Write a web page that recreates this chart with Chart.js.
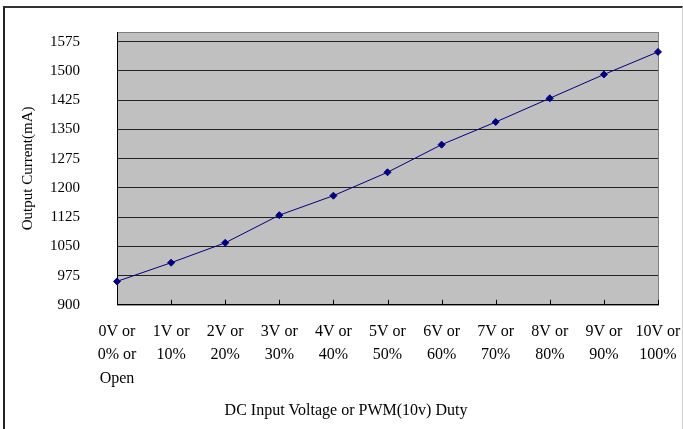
<!DOCTYPE html>
<html>
<head>
<meta charset="utf-8">
<script src="https://cdn.jsdelivr.net/npm/chart.js"></script>
<style>
  html, body { margin: 0; padding: 0; background: #fff; overflow: hidden; }
  #wrap { position: relative; width: 683px; height: 429px; }
  #frame {
    position: absolute; left: 3px; top: 6px; width: 677px; height: 440px;
    border-left: 2px solid #222; border-top: 2px solid #333; border-right: 1px solid #d0d0d0;
    pointer-events: none;
  }
  canvas { position: absolute; left: 0; top: 0; }
</style>
</head>
<body>
<div id="wrap">
  <canvas id="chart" width="683" height="429"></canvas>
  <div id="frame"></div>
</div>
<script>
const categories = [
  ['0V or', '0% or', 'Open'],
  ['1V or', '10%'],
  ['2V or', '20%'],
  ['3V or', '30%'],
  ['4V or', '40%'],
  ['5V or', '50%'],
  ['6V or', '60%'],
  ['7V or', '70%'],
  ['8V or', '80%'],
  ['9V or', '90%'],
  ['10V or', '100%']
];
const outputCurrent = [960, 1008, 1059, 1130, 1180, 1240, 1311, 1369, 1430, 1491, 1549];
const yTickValues = [900, 975, 1050, 1125, 1200, 1275, 1350, 1425, 1500, 1575];
const yMin = 900;
const yMax = 1600;

const serif = "'Liberation Serif', 'Times New Roman', serif";

function noScalePadding(s) {
  s.paddingTop = 0;
  s.paddingBottom = 0;
  s.paddingLeft = 0;
  s.paddingRight = 0;
}

// gray plot background + frame, and the little inside tick marks on the x axis
const plotArea = {
  id: 'plotArea',
  beforeDraw(chart) {
    const { ctx, chartArea: a } = chart;
    ctx.save();
    ctx.fillStyle = '#c0c0c0';
    ctx.fillRect(a.left, a.top, a.right - a.left, a.bottom - a.top);
    ctx.strokeStyle = '#808080';
    ctx.lineWidth = 1;
    ctx.strokeRect(a.left + 0.5, a.top + 0.5, a.right - a.left, a.bottom - a.top);
    ctx.restore();
  },
  afterDatasetsDraw(chart) {
    const { ctx, chartArea: a } = chart;
    const x = chart.scales.x;
    ctx.save();
    ctx.strokeStyle = '#000';
    ctx.lineWidth = 1;
    ctx.beginPath();
    x.ticks.forEach((t, i) => {
      const px = Math.round(x.getPixelForTick(i)) + 0.5;
      ctx.moveTo(px, a.bottom);
      ctx.lineTo(px, a.bottom - 5);
    });
    ctx.stroke();
    ctx.restore();
  }
};

new Chart(document.getElementById('chart').getContext('2d'), {
  type: 'line',
  data: {
    labels: categories,
    datasets: [{
      data: outputCurrent,
      borderColor: '#000080',
      backgroundColor: '#000080',
      borderWidth: 1,
      pointStyle: 'rectRot',
      pointRadius: 3.5,
      pointBorderWidth: 1,
      tension: 0,
      clip: false
    }]
  },
  options: {
    responsive: false,
    animation: false,
    devicePixelRatio: 1,
    // left/right unequal so the bottom title sits where the original has it
    layout: { padding: { left: 34, top: 32, right: 25, bottom: 0 } },
    plugins: {
      legend: { display: false },
      tooltip: { enabled: false },
      title: {
        display: true,
        position: 'bottom',
        text: 'DC Input Voltage or PWM(10v) Duty',
        color: '#000',
        font: { family: serif, size: 16, weight: 'normal' },
        padding: { top: 0, bottom: 9 }
      }
    },
    scales: {
      x: {
        offset: false,
        grid: { display: false, drawTicks: false },
        border: { display: true, color: '#000', width: 1 },
        ticks: {
          color: '#000',
          font: { family: serif, size: 16, lineHeight: 1.47 },
          padding: 15,
          maxRotation: 0,
          autoSkip: false
        },
        afterFit(s) { s.height = 96; noScalePadding(s); }
      },
      y: {
        min: yMin,
        max: yMax,
        afterBuildTicks(s) {
          s.ticks = yTickValues.map(v => ({ value: v }));
        },
        grid: { color: '#222', lineWidth: 1, drawTicks: false },
        border: { display: true, color: '#000', width: 1 },
        ticks: {
          color: '#000',
          font: { family: serif, size: 15 },
          padding: 37,
          callback: v => String(v)
        },
        title: {
          display: true,
          text: 'Output Current(mA)',
          color: '#000',
          font: { family: serif, size: 15 },
          padding: { top: -15, bottom: 0 }
        },
        afterFit(s) { s.width = 83; noScalePadding(s); }
      }
    }
  },
  plugins: [plotArea]
});
</script>
</body>
</html>
